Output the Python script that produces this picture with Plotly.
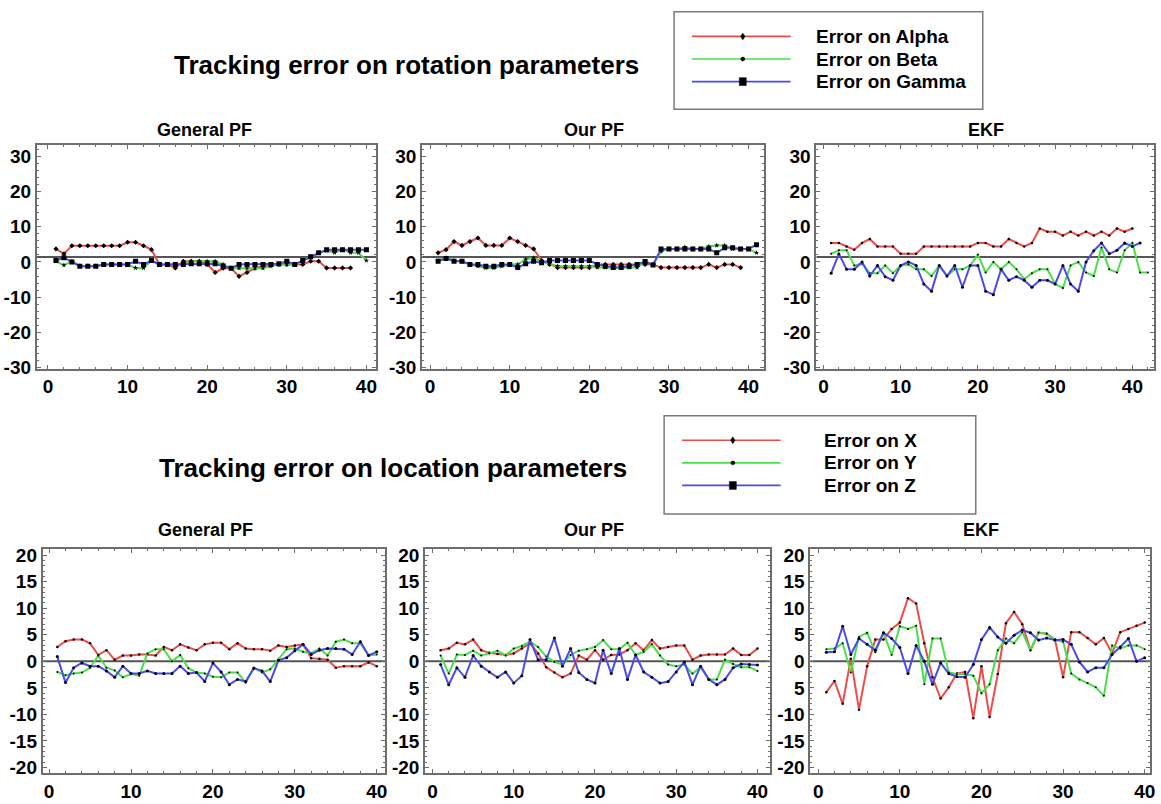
import plotly.graph_objects as go

# ---------------- data ----------------
rot_series = ["Error on Alpha", "Error on Beta", "Error on Gamma"]
loc_series = ["Error on X", "Error on Y", "Error on Z"]
panel_titles = ["General PF", "Our PF", "EKF"]
rot_ticks = [-30, -20, -10, 0, 10, 20, 30]
rot_ticktext = ["-30", "-20", "-10", "0", "10", "20", "30"]
loc_ticks = [-20, -15, -10, -5, 0, 5, 10, 15, 20]
loc_ticktext = ["-20", "-15", "-10", "5", "0", "5", "10", "15", "20"]
x_ticks = [0, 10, 20, 30, 40]
rot_ref_level = 1.4
loc_ref_level = 0.0

# rotation errors
alpha_gpf = [3.7, 2.3, 4.6, 4.6, 4.6, 4.6, 4.6, 4.6, 4.6, 5.6, 5.6, 4.6, 3.5, -0.7, -0.7, -1.7, 0.2, 0.2, 0.2, -0.7,
             -3.0, -1.8, -1.8, -4.1, -3.0, -1.8, -1.2, -0.7, -0.7, -0.7, -0.7, -0.7, 0.2, 0.2, -1.7, -1.7, -1.7, -1.7]
beta_gpf = [0.2, -0.9, 0.2, -1.2, -1.2, -1.2, -0.7, -0.7, -0.7, -0.7, -1.7, -1.7, 0.4, -0.7, -0.7, -0.7, -0.7, 0.2, 0.2, 0.2,
            0.2, -0.7, -1.8, -1.8, -1.8, -1.8, -1.8, -1.2, -0.7, -0.7, -0.7, 0.4, 1.6, 2.6, 3.2, 2.6, 3.5, 2.6, 2.6, 0.4]
gamma_gpf = [0.4, 1.2, 0.0, -1.2, -1.2, -1.2, -0.7, -0.7, -0.7, -0.7, 0.2, -0.7, 0.4, -0.7, -0.7, -0.7, -0.7, -0.5, -0.5, -0.5,
             -0.5, -1.2, -1.8, -0.7, -0.7, -0.7, -0.7, -0.7, -0.5, 0.2, -0.7, 0.4, 1.5, 2.6, 3.5, 3.5, 3.5, 3.5, 3.5, 3.5]

alpha_our = [2.6, 3.5, 5.8, 4.7, 5.8, 6.8, 4.7, 4.7, 4.7, 6.8, 5.8, 4.7, 3.7, 0.4, -0.7, -1.6, -1.6, -1.6, -1.6, -1.6,
             -0.7, -0.7, -0.7, -0.7, -0.7, -0.7, -0.7, -0.7, -1.6, -1.6, -1.6, -1.6, -1.6, -1.6, -0.7, -1.6, -0.7, -0.7, -1.6]
beta_our = [0.4, 1.2, 0.4, 0.1, -0.7, -1.2, -1.7, -1.7, -1.2, -0.7, -0.7, 0.7, 1.2, 0.2, -0.5, -1.2, -1.2, -1.2, -1.2, -1.2,
            -1.6, -1.6, -1.6, -1.6, -1.6, -1.6, 0.2, -0.7, 3.0, 3.7, 3.7, 4.2, 3.7, 3.7, 4.4, 4.7, 4.7, 3.7, 3.7, 3.7, 2.6]
gamma_our = [0.2, 1.0, 0.2, 0.2, -0.7, -0.7, -1.2, -1.2, -0.7, -0.7, -1.6, -0.5, 0.2, -0.2, 0.4, 0.4, 0.4, 0.4, 0.4, 0.4,
             -0.7, -1.2, -1.6, -1.6, -1.2, -0.7, 0.1, -0.9, 3.7, 3.7, 3.7, 3.7, 3.7, 3.7, 3.7, 2.6, 4.0, 4.0, 3.7, 3.7, 4.9]

alpha_ekf = [5.4, 5.4, 4.4, 3.5, 5.4, 6.5, 4.4, 4.4, 4.4, 2.3, 2.3, 2.3, 4.4, 4.4, 4.4, 4.4, 4.4, 4.4, 4.4, 5.4,
             5.4, 4.4, 4.4, 6.5, 5.4, 4.4, 5.4, 9.5, 8.6, 8.6, 7.5, 8.6, 7.5, 8.6, 7.5, 8.6, 7.5, 9.5, 8.6, 9.5]
beta_ekf = [2.3, 3.3, 3.3, -1.0, -0.5, -3.2, -3.2, -1.0, -3.2, -1.0, -0.7, -2.1, -2.1, -4.0, -1.0, -4.0, -2.1, -2.1, -1.0, 2.1,
            -3.0, 0.0, -2.1, 0.0, -2.1, -4.9, -3.2, -2.1, -2.1, -6.3, -7.4, -1.0, 0.0, -3.0, -4.0, 4.1, -2.1, -3.0, 3.3, 5.4,
            -3.0, -3.0]
gamma_ekf = [-3.2, 2.3, -2.1, -2.1, 0.0, -4.0, -1.0, -4.2, -5.2, -1.0, 0.0, -1.0, -6.3, -8.3, -1.0, -4.0, -1.0, -7.2, -1.0, -1.0,
             -8.3, -9.3, -2.1, -5.2, -4.2, -5.2, -7.2, -5.2, -5.2, -6.3, -1.0, -6.3, -8.3, 0.0, 3.2, 5.4, 2.3, 3.3, 5.4, 4.4,
             5.4]

# location errors
x_gpf = [2.7, 3.8, 4.1, 4.1, 3.4, 1.2, 2.1, 0.3, 1.1, 1.1, 1.3, 1.3, 1.1, 2.7, 2.1, 3.2, 2.6, 2.1, 3.2, 3.5,
         3.5, 2.3, 3.4, 2.4, 2.3, 2.3, 2.0, 3.0, 2.7, 3.0, 3.2, 0.6, 0.5, 0.3, -1.2, -0.9, -0.9, -0.9, -0.2, -0.9]
y_gpf = [-2.0, -2.6, -2.3, -2.1, -1.2, 1.1, -1.2, -1.7, -3.0, -2.4, -2.7, 1.5, 2.3, 2.3, 0.0, 1.2, -1.3, -2.1, -2.3, -2.9,
         -3.0, -2.1, -2.1, -4.0, -1.2, -2.1, -1.5, 0.3, 2.3, 2.4, 1.8, 1.5, 2.4, 1.1, 3.7, 4.1, 3.4, 3.4, 1.1, 1.3]
z_gpf = [0.9, -4.0, -1.2, -0.3, -0.9, -0.9, -1.8, -3.0, -0.9, -2.3, -2.3, -1.8, -2.3, -2.3, -2.3, -0.9, -2.3, -2.1, -3.8, -0.3,
         -2.0, -4.4, -3.4, -3.8, -1.3, -1.8, -3.8, 0.2, 0.7, 2.0, 3.2, 1.3, 2.1, 2.4, 2.4, 2.3, 1.3, 3.7, 1.1, 1.8]

x_our = [2.1, 2.4, 3.5, 3.2, 4.1, 2.1, 1.6, 1.4, 1.2, 1.5, 2.4, 3.4, 1.5, -1.1, -2.1, -3.0, -2.3, 1.1, 0.3, 2.1,
         0.3, 1.2, 1.3, 2.1, 3.4, 2.1, 4.0, 2.4, 2.7, 3.0, 3.0, 0.3, 1.1, 1.3, 1.3, 1.3, 2.4, 1.2, 1.2, 2.4]
y_our = [1.1, -2.3, 1.3, 1.2, 2.0, 1.1, 1.5, 2.0, 1.1, 2.4, 2.9, 3.7, 2.7, 0.9, -0.1, -0.6, 1.2, 2.0, 2.3, 2.7,
         4.0, 2.3, 2.3, 3.5, 1.2, 1.8, 3.2, 1.1, -0.6, -0.9, -0.6, -2.3, -1.1, -3.4, -3.4, 0.3, -0.5, -1.1, -1.1, -1.8]
z_our = [-0.6, -4.4, -1.2, -3.0, 1.1, -0.9, -2.0, -3.0, -2.0, -4.1, -2.7, 4.1, 0.3, 0.3, 4.4, -0.9, 2.4, -2.1, -3.4, -4.1,
         2.1, -2.3, 2.4, -3.4, 1.2, -2.0, -3.0, -4.1, -3.8, -2.0, -0.1, -4.4, -0.9, -3.4, -4.4, -3.4, -1.2, -0.5, -0.6, -0.7]

x_ekf = [-5.8, -3.7, -8.0, 0.5, -9.1, -0.9, 4.1, 4.1, 6.1, 7.3, 11.9, 10.9, 3.4, -3.0, -7.0, -4.9, -2.3, -2.0, -10.7, -0.9,
         -10.5, -2.4, 7.2, 9.3, 7.0, 2.1, 5.4, 5.2, 4.1, -3.0, 5.5, 5.5, 4.4, 3.2, 4.4, 1.5, 5.5, 6.1, 6.7, 7.3]
y_ekf = [2.3, 2.4, 3.4, -2.1, 4.6, 5.4, 1.7, 5.4, 1.2, 6.6, 6.1, 6.7, -4.3, 4.3, 4.3, -2.1, -2.4, -2.4, -2.7, -6.0,
         -4.3, 2.1, 4.3, 3.4, 5.5, 2.1, 5.4, 5.2, 4.0, 3.7, -2.3, -3.4, -4.1, -4.9, -6.5, 3.0, 2.4, 3.0, 3.0, 2.3]
z_ekf = [1.7, 1.8, 6.6, 1.3, 4.3, 3.2, 2.1, 5.4, 4.3, 2.6, -2.3, 3.0, 0.0, -4.3, -0.3, -2.3, -2.9, -3.0, -0.6, 4.1,
         6.4, 4.6, 3.4, 4.9, 5.9, 5.4, 4.0, 4.4, 4.0, 4.1, 3.2, -0.1, -2.0, -1.2, -1.2, 1.3, 2.7, 4.3, 0.0, 0.7]

# ---------------- styling / layout ----------------
W, H = 1161, 804
RED, GREEN, BLUE = "#ee4a4a", "#4ade4a", "#4a4aee"
FONT = "Liberation Sans, Arial, sans-serif"

def px_x(x):
    return x / W

def px_y(y):
    return 1 - y / H

# pixel boxes (left, top, right, bottom), x range, y range
panels = [
    dict(box=(37, 144, 378, 371), xr=[-1.4, 41.25], yr=[-30.3, 33.1], kind="rot",
         data=[alpha_gpf, beta_gpf, gamma_gpf], big=True, title_y=128),
    dict(box=(424, 144, 767, 371), xr=[-1.0, 41.9], yr=[-30.3, 33.1], kind="rot",
         data=[alpha_our, beta_our, gamma_our], big=True, title_y=128),
    dict(box=(820, 144, 1159, 371), xr=[-0.9, 42.8], yr=[-30.3, 33.1], kind="rot",
         data=[alpha_ekf, beta_ekf, gamma_ekf], big=False, title_y=128),
    dict(box=(43, 555, 387, 783), xr=[-0.77, 41.05], yr=[-21.1, 21.1], kind="loc",
         data=[x_gpf, y_gpf, z_gpf], big=False, title_y=535),
    dict(box=(427, 555, 773, 783), xr=[-0.9, 41.5], yr=[-21.1, 21.1], kind="loc",
         data=[x_our, y_our, z_our], big=False, title_y=535),
    dict(box=(814, 555, 1155, 783), xr=[-0.94, 40.65], yr=[-21.1, 21.1], kind="loc",
         data=[x_ekf, y_ekf, z_ekf], big=False, title_y=535),
]
title_centers = [205, 597, 990, 206, 597, 985]

fig = go.Figure()
layout = dict(
    width=W, height=H, margin=dict(l=0, r=0, t=0, b=0),
    paper_bgcolor="white", plot_bgcolor="white", showlegend=False,
    font=dict(family=FONT, color="black"),
)
shapes = []
annotations = []

for i, p in enumerate(panels):
    n = "" if i == 0 else str(i + 1)
    xa, ya = "x" + n, "y" + n
    l, t, r, b = p["box"]
    colors = [RED, GREEN, BLUE]
    names = rot_series if p["kind"] == "rot" else loc_series
    if p["big"]:
        markers = [dict(symbol="diamond", size=4, color="black"),
                   dict(symbol="star", size=4, color="black"),
                   dict(symbol="square", size=5, color="black")]
    else:
        markers = [dict(symbol="circle", size=2.5, color="black"),
                   dict(symbol="circle", size=2, color="black"),
                   dict(symbol="circle", size=3, color="black")]
    for vals, c, m, nm in zip(p["data"], colors, markers, names):
        fig.add_trace(go.Scatter(
            x=list(range(1, len(vals) + 1)), y=vals, name=nm, mode="lines+markers",
            line=dict(color=c, width=2), marker=m, xaxis=xa, yaxis=ya))
    common_axis = dict(showline=True, linecolor="#6e6e6e", linewidth=2, mirror="allticks",
                       showgrid=False, zeroline=False, ticks="inside", ticklen=4,
                       tickcolor="#6e6e6e", tickwidth=1,
                       tickfont=dict(family=FONT, size=19, color="black", weight="bold"))
    layout["xaxis" + n] = dict(common_axis, domain=[px_x(l), px_x(r)], range=p["xr"],
                               anchor=ya, tickvals=x_ticks,
                               minor=dict(ticks="inside", ticklen=2, dtick=2, tickcolor="#6e6e6e"))
    if p["kind"] == "rot":
        yt, ytt, mdt = rot_ticks, rot_ticktext, 2
    else:
        yt, ytt, mdt = loc_ticks, loc_ticktext, 1
    layout["yaxis" + n] = dict(common_axis, domain=[px_y(b), px_y(t)], range=p["yr"],
                               anchor=xa, tickvals=yt, ticktext=ytt,
                               minor=dict(ticks="inside", ticklen=2, dtick=mdt, tickcolor="#6e6e6e"))
    ref = rot_ref_level if p["kind"] == "rot" else loc_ref_level
    shapes.append(dict(type="line", xref=xa + " domain", yref=ya, x0=0, x1=1, y0=ref, y1=ref,
                       line=dict(color="#555555", width=2), layer="below"))
    annotations.append(dict(text="<b>%s</b>" % panel_titles[i % 3], x=px_x(title_centers[i]),
                            y=px_y(p["title_y"]), xref="paper", yref="paper", showarrow=False,
                            xanchor="center", yanchor="middle",
                            font=dict(family=FONT, size=18, color="black")))

# main titles
annotations.append(dict(text="<b>Tracking error on rotation parameters</b>", x=px_x(408), y=px_y(62),
                        xref="paper", yref="paper", showarrow=False, xanchor="center", yanchor="middle",
                        font=dict(family=FONT, size=26, color="black")))
annotations.append(dict(text="<b>Tracking error on location parameters</b>", x=px_x(395), y=px_y(472),
                        xref="paper", yref="paper", showarrow=False, xanchor="center", yanchor="middle",
                        font=dict(family=FONT, size=26, color="black")))

# hand-drawn legend boxes
def legend_box(box, line_x, mark_x, text_x, rows, labels):
    l, t, r, b = box
    shapes.append(dict(type="rect", xref="paper", yref="paper", x0=px_x(l), x1=px_x(r),
                       y0=px_y(b), y1=px_y(t), line=dict(color="#7a7a7a", width=1.5),
                       fillcolor="white", layer="above"))
    kinds = ["diamond", "star", "square"]
    for yy, c, lab, k in zip(rows, [RED, GREEN, BLUE], labels, kinds):
        shapes.append(dict(type="line", xref="paper", yref="paper", x0=px_x(line_x[0]), x1=px_x(line_x[1]),
                           y0=px_y(yy), y1=px_y(yy), line=dict(color=c, width=1.7), layer="above"))
        if k == "diamond":
            path = "M %f %f L %f %f L %f %f L %f %f Z" % (
                px_x(mark_x), px_y(yy - 3.5), px_x(mark_x + 2.2), px_y(yy),
                px_x(mark_x), px_y(yy + 3.5), px_x(mark_x - 2.2), px_y(yy))
            shapes.append(dict(type="path", xref="paper", yref="paper", path=path,
                               fillcolor="black", line=dict(color="black", width=0.5), layer="above"))
        elif k == "star":
            shapes.append(dict(type="circle", xref="paper", yref="paper", x0=px_x(mark_x - 2),
                               x1=px_x(mark_x + 2), y0=px_y(yy + 2), y1=px_y(yy - 2),
                               fillcolor="black", line=dict(color="black", width=0.5), layer="above"))
        else:
            shapes.append(dict(type="rect", xref="paper", yref="paper", x0=px_x(mark_x - 3.5),
                               x1=px_x(mark_x + 3.5), y0=px_y(yy + 4), y1=px_y(yy - 4),
                               fillcolor="black", line=dict(color="black", width=0.5), layer="above"))
        annotations.append(dict(text="<b>%s</b>" % lab, x=px_x(text_x), y=px_y(yy), xref="paper",
                                yref="paper", showarrow=False, xanchor="left", yanchor="middle",
                                font=dict(family=FONT, size=19, color="black")))

legend_box((677, 8, 987, 107), (695, 794), 746, 818, (33, 56, 79), rot_series)
legend_box((667, 419, 980, 519), (685, 784), 736, 826, (444, 467, 490), loc_series)

layout["shapes"] = shapes
layout["annotations"] = annotations
fig.update_layout(**layout)
fig.write_html("out.html", config={"displayModeBar": False},
               post_script="document.body.style.margin='0px';")
